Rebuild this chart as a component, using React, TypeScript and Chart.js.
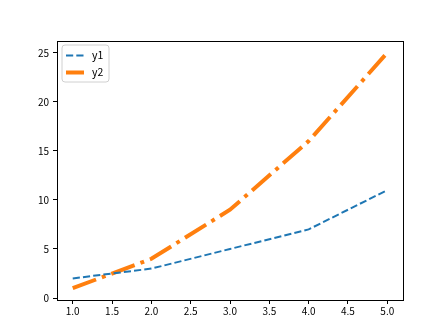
import React, { useEffect, useRef } from "react";
import { Chart, registerables } from "chart.js";

Chart.register(...registerables);

const xValues = [1, 2, 3, 4, 5];
const y1Values = [2, 3, 5, 7, 11];
const y2Values = [1, 4, 9, 16, 25];
const xTicks = [1.0, 1.5, 2.0, 2.5, 3.0, 3.5, 4.0, 4.5, 5.0];
const yTicks = [0, 5, 10, 15, 20, 25];
const seriesLabels = ["y1", "y2"];

const FONT = "'Noto Sans CJK SC', 'Liberation Sans', sans-serif";

const framePlugin = {
  id: "frame",
  afterDraw(chart: any) {
    const { ctx, chartArea } = chart;
    ctx.save();
    ctx.strokeStyle = "#000";
    ctx.lineWidth = 1;
    ctx.strokeRect(
      Math.round(chartArea.left) + 0.5,
      Math.round(chartArea.top) + 0.5,
      Math.round(chartArea.right - chartArea.left),
      Math.round(chartArea.bottom - chartArea.top)
    );
    ctx.restore();
  },
};

const legendPlugin = {
  id: "mplLegend",
  afterDraw(chart: any) {
    const { ctx, chartArea } = chart;
    const x0 = chartArea.left + 5;
    const y0 = chartArea.top + 4;
    const w = 47;
    const h = 37;
    ctx.save();
    ctx.fillStyle = "rgba(255,255,255,0.8)";
    ctx.strokeStyle = "#d0d0d0";
    ctx.lineWidth = 1;
    ctx.beginPath();
    const r = 3;
    ctx.moveTo(x0 + r, y0);
    ctx.lineTo(x0 + w - r, y0);
    ctx.quadraticCurveTo(x0 + w, y0, x0 + w, y0 + r);
    ctx.lineTo(x0 + w, y0 + h - r);
    ctx.quadraticCurveTo(x0 + w, y0 + h, x0 + w - r, y0 + h);
    ctx.lineTo(x0 + r, y0 + h);
    ctx.quadraticCurveTo(x0, y0 + h, x0, y0 + h - r);
    ctx.lineTo(x0, y0 + r);
    ctx.quadraticCurveTo(x0, y0, x0 + r, y0);
    ctx.closePath();
    ctx.fill();
    ctx.stroke();
    chart.data.datasets.forEach((ds: any, i: number) => {
      const cy = y0 + 10.5 + i * 17;
      ctx.beginPath();
      ctx.strokeStyle = ds.borderColor;
      ctx.lineWidth = ds.borderWidth;
      ctx.setLineDash(ds.borderDash || []);
      ctx.lineCap = "butt";
      ctx.moveTo(x0 + 4, cy);
      ctx.lineTo(x0 + 22, cy);
      ctx.stroke();
      ctx.setLineDash([]);
      ctx.fillStyle = "#000";
      ctx.font = `10.5px ${FONT}`;
      ctx.textBaseline = "middle";
      ctx.fillText(ds.label, x0 + 30, cy);
    });
    ctx.restore();
  },
};

export default function App() {
  const ref = useRef<HTMLCanvasElement>(null);
  useEffect(() => {
    if (!ref.current) return;
    const chart = new Chart(ref.current, {
      type: "line",
      data: {
        datasets: [
          {
            label: seriesLabels[0],
            data: xValues.map((x, i) => ({ x, y: y1Values[i] })),
            borderColor: "#1f77b4",
            borderWidth: 2,
            borderDash: [7.2, 3.1],
            pointRadius: 0,
            fill: false,
            tension: 0,
          },
          {
            label: seriesLabels[1],
            data: xValues.map((x, i) => ({ x, y: y2Values[i] })),
            borderColor: "#ff7f0e",
            borderWidth: 4,
            borderDash: [24.9, 6.2, 3.9, 6.2],
            pointRadius: 0,
            fill: false,
            tension: 0,
          },
        ],
      },
      options: {
        responsive: false,
        animation: false,
        layout: { padding: { left: 0, right: 45, top: 41, bottom: 14 } },
        plugins: { legend: { display: false }, tooltip: { enabled: false } },
        scales: {
          x: {
            type: "linear",
            min: 0.8,
            max: 5.2,
            afterBuildTicks: (scale: any) => {
              scale.ticks = xTicks.map((v) => ({ value: v }));
            },
            afterFit: (scale: any) => {
              scale.height = 22;
            },
            grid: {
              drawOnChartArea: false,
              drawTicks: true,
              tickLength: 4,
              color: "#000",
            },
            border: { display: true, color: "#000" },
            ticks: {
              color: "#000",
              font: { family: FONT, size: 10 },
              padding: 1,
              maxRotation: 0,
              callback: (v: any) => Number(v).toFixed(1),
            },
          },
          y: {
            type: "linear",
            min: -0.2,
            max: 26.2,
            afterBuildTicks: (scale: any) => {
              scale.ticks = yTicks.map((v) => ({ value: v }));
            },
            afterFit: (scale: any) => {
              scale.width = 57;
            },
            grid: {
              drawOnChartArea: false,
              drawTicks: true,
              tickLength: 4,
              color: "#000",
            },
            border: { display: true, color: "#000" },
            ticks: {
              color: "#000",
              font: { family: FONT, size: 10 },
              padding: 4,
              callback: (v: any) => String(v),
            },
          },
        },
      },
      plugins: [framePlugin, legendPlugin],
    });
    return () => chart.destroy();
  }, []);
  return (
    <div style={{ position: "fixed", left: 0, top: 0, width: 448, height: 336, background: "#fff" }}>
      <canvas ref={ref} width={448} height={336} style={{ width: 448, height: 336 }} />
    </div>
  );
}
